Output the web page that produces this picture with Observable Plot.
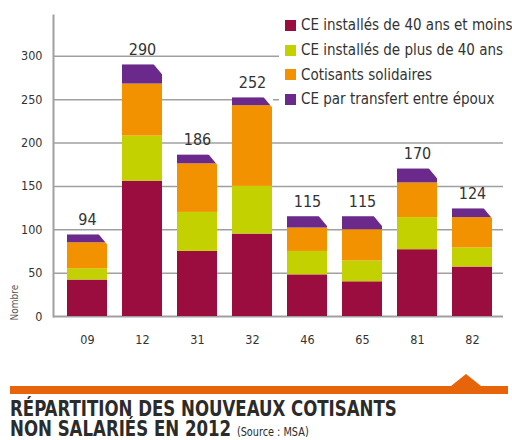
<!DOCTYPE html>
<html><head><meta charset="utf-8">
<script src="https://cdn.jsdelivr.net/npm/d3@7"></script>
<script src="https://cdn.jsdelivr.net/npm/@observablehq/plot@0.6"></script>
<style>
body{margin:0;background:#fff;}
#wrap{position:relative;width:512px;height:440px;overflow:hidden;font-family:"Liberation Sans Narrow","DejaVu Sans Condensed",sans-serif;}
#chart{position:absolute;left:0;top:0;}
#legend{position:absolute;left:279px;top:13px;background:#fff;padding:0 4px 4px 6px;}
.row{display:flex;align-items:center;height:24.7px;font-size:15px;color:#333;white-space:nowrap;}
.sw{width:11px;height:11px;margin-right:5px;flex:none;}
#rule{position:absolute;left:10px;top:386px;width:498px;height:8px;background:#e8640a;}
#tri{position:absolute;left:451px;top:374px;width:0;height:0;border-left:15px solid transparent;border-right:15px solid transparent;border-bottom:12px solid #e8640a;}
.tl{position:absolute;left:10px;font-weight:bold;font-size:20.5px;line-height:19px;height:19px;color:#2b2b2b;white-space:nowrap;transform:scaleX(0.9);transform-origin:0 0;}
#t1{top:400px;}
#t2{top:420px;}
.src{font-weight:normal;font-size:12px;}
</style>
</head><body>
<div id="wrap">
  <div id="chart"></div>
  <div id="legend"></div>
  <div id="tri"></div>
  <div id="rule"></div>
  <div class="tl" id="t1">RÉPARTITION DES NOUVEAUX COTISANTS</div>
  <div class="tl" id="t2">NON SALARIÉS EN 2012 <span class="src">(Source : MSA)</span></div>
</div>
<script>
const departements = ["09","12","31","32","46","65","81","82"];
const series = ["CE installés de 40 ans et moins","CE installés de plus de 40 ans","Cotisants solidaires","CE par transfert entre époux"];
const colors = ["#9b0d3f","#c4d100","#f39200","#6b2a8b"];
const ceMoins40 = [42,156,75,95,48,40,77,57];
const cePlus40 = [13,52,45,55,27,24,37,22];
const solidaires = [30,60,56,93,27,36,40,35];
const transfert = [9,22,10,9,13,15,16,10];
const totals = [94,290,186,252,115,115,170,124];
const yTicks = [0,50,100,150,200,250,300];

const seriesValues = [ceMoins40, cePlus40, solidaires, transfert];
const rows = [];
series.forEach((s, k) => departements.forEach((d, i) => rows.push({dep: d, serie: s, value: seriesValues[k][i]})));
const totalRows = departements.map((d, i) => ({dep: d, total: totals[i]}));

const font = '"Liberation Sans Narrow","DejaVu Sans Condensed",sans-serif';

// cut top-right corner of each stacked bar
const chamfer = (index, scales) => {
  const g = d3.create("svg:g");
  const bw = scales.x.bandwidth ? scales.x.bandwidth() : 41;
  totalRows.forEach(r => {
    const xr = scales.x(r.dep) + bw;
    const yt = scales.y(r.total);
    g.append("path")
      .attr("d", `M${xr - 9},${yt - 1}L${xr + 1},${yt - 1}L${xr + 1},${yt + 11}Z`)
      .attr("fill", "#fff");
  });
  return g.node();
};

const chart = Plot.plot({
  width: 512, height: 360,
  marginLeft: 53, marginRight: 9, marginTop: 15, marginBottom: 44,
  style: {fontFamily: font, fontSize: "13px", color: "#333", background: "transparent"},
  x: {domain: departements, paddingInner: 0.27, paddingOuter: 0.135, insetLeft: 3, label: null},
  y: {domain: [0, 347], label: null},
  color: {domain: series, range: colors},
  marks: [
    Plot.gridY(yTicks.slice(1), {stroke: "#a0a0a0", strokeOpacity: 1, strokeWidth: 1.5}),
    Plot.ruleY([0], {stroke: "#a0a0a0", strokeWidth: 2}),
    Plot.barY(rows, {x: "dep", y: "value", fill: "serie", order: series}),
    chamfer,
    Plot.text(totalRows, {x: "dep", y: "total", text: d => String(d.total), dy: -10, lineAnchor: "bottom", fontSize: 16, fill: "#333"}),
    Plot.frame({anchor: "left", stroke: "#a0a0a0", strokeWidth: 2}),
    Plot.axisY(yTicks, {tickSize: 0, tickPadding: 11, fontSize: 12.5, fill: "#333"}),
    Plot.axisX({tickSize: 0, tickPadding: 19, fontSize: 12.5, fill: "#333"}),
    Plot.text(["Nombre"], {frameAnchor: "bottom-left", rotate: -90, textAnchor: "start", dx: -36, dy: 4, fontSize: 10, fill: "#555"})
  ]
});
document.getElementById("chart").appendChild(chart);

const legend = document.getElementById("legend");
series.forEach((s, k) => {
  const row = document.createElement("div");
  row.className = "row";
  const sw = document.createElement("span");
  sw.className = "sw";
  sw.style.background = colors[k];
  const t = document.createElement("span");
  t.textContent = s;
  row.appendChild(sw); row.appendChild(t);
  legend.appendChild(row);
});
</script>
</body></html>
